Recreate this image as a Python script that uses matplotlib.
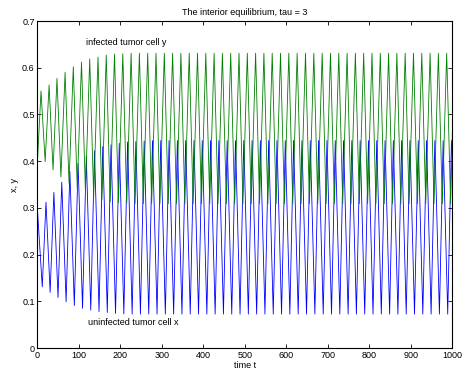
import numpy as np
import matplotlib
matplotlib.use('Agg')
import matplotlib.pyplot as plt

plt.rcParams['font.family'] = ['Liberation Sans', 'DejaVu Sans']

# --- simulation output, one entry per oscillation cycle ---
t_start, t_end = 0.0, 1000.0
x_start, x_end = 0.295, 0.40
y_start, y_end = 0.40, 0.47

# uninfected tumor cell x: minima / maxima
x_min_t = [11.5, 30.5, 49.5, 69.0, 88.8, 108.6, 128.4, 148.3, 168.2, 188.1,
           208.1, 228.1, 248.1, 268.1, 288.1, 308.1, 328.1, 348.1, 368.1, 388.1,
           408.1, 428.1, 448.1, 468.1, 488.1, 508.1, 528.1, 548.1, 568.1, 588.1,
           608.1, 628.2, 648.3, 668.4, 688.5, 708.5, 728.5, 748.5, 768.5, 788.5,
           808.5, 828.5, 848.5, 868.5, 888.5, 908.5, 928.5, 948.5, 968.5, 988.5]
x_min = [0.131, 0.119, 0.108, 0.099, 0.091, 0.085, 0.081, 0.078, 0.076, 0.074,
         0.073, 0.0725, 0.0725, 0.0725, 0.0725, 0.0725, 0.0725, 0.0725, 0.0725, 0.0725,
         0.0725, 0.0725, 0.0725, 0.0725, 0.0725, 0.0725, 0.0725, 0.0725, 0.0725, 0.0725,
         0.0725, 0.0725, 0.0725, 0.0725, 0.0725, 0.0725, 0.0725, 0.0725, 0.0725, 0.0725,
         0.0725, 0.0725, 0.0725, 0.0725, 0.0725, 0.0725, 0.0725, 0.0725, 0.0725, 0.0725]
x_max_t = [20.5, 39.5, 58.5, 78.0, 97.8, 117.6, 137.4, 157.3, 177.2, 197.1,
           217.1, 237.1, 257.1, 277.1, 297.1, 317.1, 337.1, 357.1, 377.1, 397.1,
           417.1, 437.1, 457.1, 477.1, 497.1, 517.1, 537.1, 557.1, 577.1, 597.1,
           617.1, 637.2, 657.3, 677.4, 697.5, 717.5, 737.5, 757.5, 777.5, 797.5,
           817.5, 837.5, 857.5, 877.5, 897.5, 917.5, 937.5, 957.5, 977.5, 997.5]
x_max = [0.312, 0.333, 0.355, 0.378, 0.395, 0.411, 0.422, 0.431, 0.435, 0.438,
         0.441, 0.442, 0.443, 0.444, 0.444, 0.444, 0.444, 0.444, 0.444, 0.444,
         0.444, 0.444, 0.444, 0.444, 0.444, 0.444, 0.444, 0.444, 0.444, 0.444,
         0.444, 0.444, 0.444, 0.444, 0.444, 0.444, 0.444, 0.444, 0.444, 0.444,
         0.444, 0.444, 0.444, 0.444, 0.444, 0.444, 0.444, 0.444, 0.444, 0.444]

# infected tumor cell y: maxima / minima
y_max_t = [8.5, 28.0, 47.0, 66.5, 86.3, 106.1, 125.9, 145.8, 165.7, 185.6,
           205.6, 225.6, 245.6, 265.6, 285.6, 305.6, 325.6, 345.6, 365.6, 385.6,
           405.6, 425.6, 445.6, 465.6, 485.6, 505.6, 525.6, 545.6, 565.6, 585.6,
           605.6, 625.7, 645.8, 665.9, 686.0, 706.0, 726.0, 746.0, 766.0, 786.0,
           806.0, 826.0, 846.0, 866.0, 886.0, 906.0, 926.0, 946.0, 966.0, 986.0]
y_max = [0.550, 0.563, 0.577, 0.590, 0.602, 0.612, 0.619, 0.623, 0.627, 0.629,
         0.630, 0.631, 0.631, 0.631, 0.631, 0.631, 0.631, 0.631, 0.631, 0.631,
         0.631, 0.631, 0.631, 0.631, 0.631, 0.631, 0.631, 0.631, 0.631, 0.631,
         0.631, 0.631, 0.631, 0.631, 0.631, 0.631, 0.631, 0.631, 0.631, 0.631,
         0.631, 0.631, 0.631, 0.631, 0.631, 0.631, 0.631, 0.631, 0.631, 0.631]
y_min_t = [18.5, 37.5, 56.5, 76.0, 95.8, 115.6, 135.4, 155.3, 175.2, 195.1,
           215.1, 235.1, 255.1, 275.1, 295.1, 315.1, 335.1, 355.1, 375.1, 395.1,
           415.1, 435.1, 455.1, 475.1, 495.1, 515.1, 535.1, 555.1, 575.1, 595.1,
           615.1, 635.2, 655.3, 675.4, 695.5, 715.5, 735.5, 755.5, 775.5, 795.5,
           815.5, 835.5, 855.5, 875.5, 895.5, 915.5, 935.5, 955.5, 975.5, 995.5]
y_min = [0.399, 0.381, 0.366, 0.353, 0.342, 0.333, 0.324, 0.317, 0.313, 0.311,
         0.310, 0.309, 0.309, 0.309, 0.309, 0.309, 0.309, 0.309, 0.309, 0.309,
         0.309, 0.309, 0.309, 0.309, 0.309, 0.309, 0.309, 0.309, 0.309, 0.309,
         0.309, 0.309, 0.309, 0.309, 0.309, 0.309, 0.309, 0.309, 0.309, 0.309,
         0.309, 0.309, 0.309, 0.309, 0.309, 0.309, 0.309, 0.309, 0.309, 0.309]


def trace(t0, v0, ta, va, tb, vb, t1, v1):
    """ join start point, alternating extrema and end point into one curve """
    t = [t0] + list(np.ravel(np.column_stack([ta, tb]))) + [t1]
    v = [v0] + list(np.ravel(np.column_stack([va, vb]))) + [v1]
    return np.array(t), np.array(v)


tx, xs = trace(t_start, x_start, x_min_t, x_min, x_max_t, x_max, t_end, x_end)
ty, ys = trace(t_start, y_start, y_max_t, y_max, y_min_t, y_min, t_end, y_end)

fig = plt.figure(figsize=(4.65, 3.75), dpi=100)
ax = fig.add_axes([0.0806, 0.072, 0.8925, 0.872])

ax.plot(tx, xs, color=(0, 0, 1), linewidth=0.6)
ax.plot(ty, ys, color=(0, 0.5, 0), linewidth=0.6)

ax.set_xlim(0, 1000)
ax.set_ylim(0, 0.7)
ax.set_xticks(np.arange(0, 1001, 100))
ax.set_yticks(np.arange(0, 0.71, 0.1))
ax.set_yticklabels(['0', '0.1', '0.2', '0.3', '0.4', '0.5', '0.6', '0.7'])
ax.tick_params(direction='in', length=3, width=0.6, labelsize=6.5,
               top=True, right=True, pad=2)
for s in ax.spines.values():
    s.set_linewidth(0.8)

ax.set_title('The interior equilibrium, tau = 3', fontsize=6.5, pad=4)
ax.set_xlabel('time t', fontsize=6.5, labelpad=1)
ax.set_ylabel('x, y', fontsize=6.5, labelpad=2)

ax.text(118, 0.655, 'infected tumor cell y', fontsize=6.5, va='center')
ax.text(122, 0.054, 'uninfected tumor cell x', fontsize=6.5, va='center')

fig.savefig('out.png', dpi=100)
